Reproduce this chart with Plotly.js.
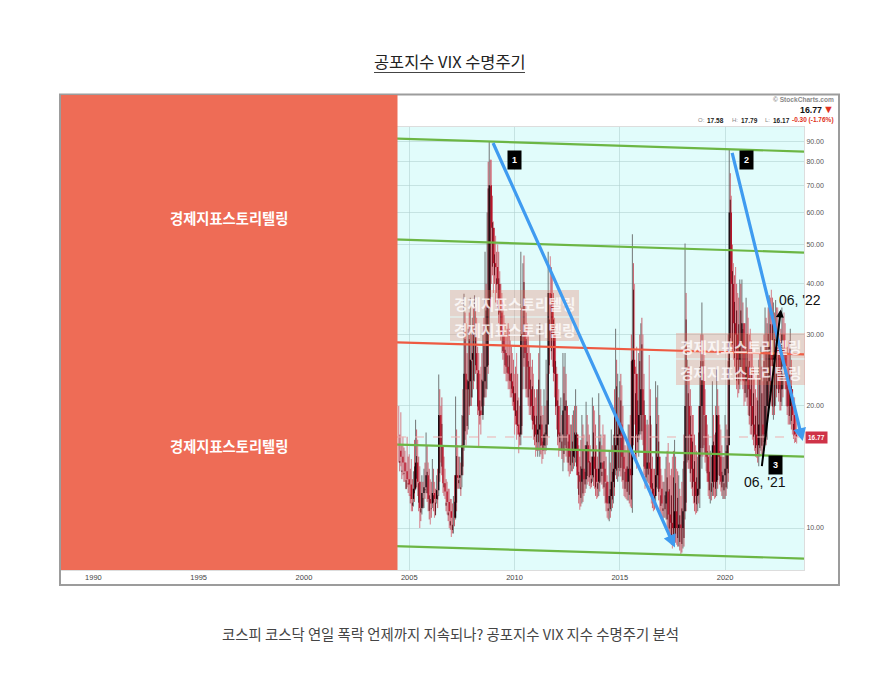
<!DOCTYPE html>
<html><head><meta charset="utf-8">
<script src="https://cdn.plot.ly/plotly-3.0.1.min.js"></script>
<style>html,body{margin:0;padding:0;background:#fff}#c{width:896px;height:692px}</style>
</head><body><div id="c"></div>
<script>
const dates=[2004.5,2004.6,2004.7,2004.8,2004.9,2005.0,2005.1,2005.2,2005.3,2005.4,2005.5,2005.6,2005.7,2005.8,2005.9,2006.0,2006.1,2006.2,2006.3,2006.4,2006.5,2006.6,2006.7,2006.8,2006.9,2007.0,2007.1,2007.2,2007.3,2007.4,2007.5,2007.6,2007.7,2007.8,2007.9,2008.0,2008.1,2008.2,2008.3,2008.4,2008.5,2008.6,2008.7,2008.8,2008.9,2009.0,2009.1,2009.2,2009.3,2009.4,2009.5,2009.6,2009.7,2009.8,2009.9,2010.0,2010.1,2010.2,2010.3,2010.4,2010.5,2010.6,2010.7,2010.8,2010.9,2011.0,2011.1,2011.2,2011.3,2011.4,2011.5,2011.6,2011.7,2011.8,2011.9,2012.0,2012.1,2012.2,2012.3,2012.4,2012.5,2012.6,2012.7,2012.8,2012.9,2013.0,2013.1,2013.2,2013.3,2013.4,2013.5,2013.6,2013.7,2013.8,2013.9,2014.0,2014.1,2014.2,2014.3,2014.4,2014.5,2014.6,2014.7,2014.8,2014.9,2015.0,2015.1,2015.2,2015.3,2015.4,2015.5,2015.6,2015.7,2015.8,2015.9,2016.0,2016.1,2016.2,2016.3,2016.4,2016.5,2016.6,2016.7,2016.8,2016.9,2017.0,2017.1,2017.2,2017.3,2017.4,2017.5,2017.6,2017.7,2017.8,2017.9,2018.0,2018.1,2018.2,2018.3,2018.4,2018.5,2018.6,2018.7,2018.8,2018.9,2019.0,2019.1,2019.2,2019.3,2019.4,2019.5,2019.6,2019.7,2019.8,2019.9,2020.0,2020.1,2020.2,2020.3,2020.4,2020.5,2020.6,2020.7,2020.8,2020.9,2021.0,2021.1,2021.2,2021.3,2021.4,2021.5,2021.6,2021.7,2021.8,2021.9,2022.0,2022.1,2022.2,2022.3,2022.4,2022.5,2022.6,2022.7,2022.8,2022.9,2023.0,2023.1,2023.2,2023.3,2023.4];
const highs=[20,19.3,16.8,15.5,16.8,15.2,14.8,13.8,18.5,16.5,14.2,13.5,14,17.2,14.5,13.2,14.8,13,13.5,23.9,20,16,14,13,12.5,11.8,12,21.1,16,15,19,37.8,32,31,37,33,37.5,33,27,25,30,48,60,89.5,81,57,52.6,50,43,38,33.5,30,32,29,27,24,27,21,48,45,37,32,28,25,24,21,22,32,20,22,26,48,46.8,42,33,25,22,21,27,27,20,19,18,19.5,22,17,15,19,17,20.5,18,16,21,19.5,16,21.5,17,18,17,13.5,15.5,17.5,17,31,24,23,22.5,17,15.5,18,19,53,40,28,27,32,30,19,18.5,26.7,18,14,23,22.5,15,13.5,13,15,16.2,13.5,15,16.5,14,13.5,12,14,50.3,26,25,20,19,16,15,25,36,27,19,17,15.5,23,17,24.6,20,17.5,15,19,17.5,85.6,66,45,44,38,41,41,32,37,33,31,27,24,21,26,28,23,35,32,37.5,38.7,36,36.5,35,29,35,34,29,27,31,22,21,18.5];
const lows=[14.5,14.2,13.5,13,12.6,12,11,11.3,12.4,12,10,10.8,11.2,12.2,11,10.2,11.2,10.6,11.5,12,14.5,12.2,11.8,10.8,10,9.5,9.7,10.5,12.5,12.5,12.6,15.5,16,17.5,20,21,23,22,15.8,17,18.5,21,22,30,40,38,36,35,30,27,24,23,22,21,20,17,16.5,15.3,16,22,22,21,19,18.5,16.5,15,15,15,14.4,15.5,15.5,20,28,25,21,17.5,15,15.5,13.8,16,14.5,13.4,13.8,14,14.5,12.5,11.1,11.5,12,12.5,13,12.5,13,12.5,11.8,12,13,12.5,11.5,10.6,10.4,11,11.5,13.5,13,13.8,13,12,11.8,11.7,11.3,10.9,18,14,15,17,16,12.5,13,12.8,11.5,11,11.5,12.5,11,10.5,10.6,10.5,9.6,9.4,8.9,9.3,9.1,9,8.6,8.9,10.5,14.5,14,12.5,11.5,10.8,11,11.2,14,16,13.8,12,11.5,12,11.8,12,13.5,12.3,11.8,11.8,12.5,25,28,26,24,21,22,24,20,21,19,17,16.5,15.5,14.9,14.2,15.5,15,16,16.5,21,20,18.5,20,22,19.5,20,24,20,18,18,17,16.2,16.17];
const closes=[15.5,15,14.5,13.8,13.2,12.8,11.8,12.5,14.5,13,11.2,12.2,12.6,13.5,11.8,11.5,12.2,11.8,12.4,19,16,12.9,12.3,11.6,11,10.6,10.6,13.5,13.3,13.5,16,24,22,23,26,27,27,24.5,19.5,19,23,25,35,70,55,45,44,40,34,30,27,25,24,23,21.5,19.5,18,17,30,30,27,25,22,20,18,17,17.5,18,16,17,18,38,36,30,24,20,17,17,19.5,20,17,15,15,15.5,17,13.5,13,14,13.2,16,14.5,13.5,15,14,13,14,14.5,14,13,11.5,12,13,14,16,17,18,15,14,13,14,13.5,26,24,17,19,22,19,14,14.5,14,12.5,12,13.5,15,12.5,11.5,11.5,12.3,10.8,10.3,10,11,10,10.2,10,11,20,20,17,14,13,12,12.5,20,24,19,15,13,13,16,13,19,15,13,13.5,14,16,60,40,32,30,26,28,32,23,25,22,20,18,17,16,18,18,17,20,23,28,26,27,28,27,22,30,27,22,20,22,19,17,16.77];
const dates2=[2004.55,2004.65,2004.75,2004.85,2004.95,
2005.05,2005.15,2005.25,2005.35,2005.45,2005.55,2005.65,2005.75,2005.85,2005.95,
2006.05,2006.15,2006.25,2006.35,2006.45,2006.55,2006.65,2006.75,2006.85,2006.95,
2007.05,2007.15,2007.25,2007.35,2007.45,2007.55,2007.65,2007.75,2007.85,2007.95,
2008.05,2008.15,2008.25,2008.35,2008.45,2008.55,2008.65,2008.75,2008.85,2008.95,
2009.05,2009.15,2009.25,2009.35,2009.45,2009.55,2009.65,2009.75,2009.85,2009.95,
2010.05,2010.15,2010.25,2010.35,2010.45,2010.55,2010.65,2010.75,2010.85,2010.95,
2011.05,2011.15,2011.25,2011.35,2011.45,2011.55,2011.65,2011.75,2011.85,2011.95,
2012.05,2012.15,2012.25,2012.35,2012.45,2012.55,2012.65,2012.75,2012.85,2012.95,
2013.05,2013.15,2013.25,2013.35,2013.45,2013.55,2013.65,2013.75,2013.85,2013.95,
2014.05,2014.15,2014.25,2014.35,2014.45,2014.55,2014.65,2014.75,2014.85,2014.95,
2015.05,2015.15,2015.25,2015.35,2015.45,2015.55,2015.65,2015.75,2015.85,2015.95,
2016.05,2016.15,2016.25,2016.35,2016.45,2016.55,2016.65,2016.75,2016.85,2016.95,
2017.05,2017.15,2017.25,2017.35,2017.45,2017.55,2017.65,2017.75,2017.85,2017.95,
2018.05,2018.15,2018.25,2018.35,2018.45,2018.55,2018.65,2018.75,2018.85,2018.95,
2019.05,2019.15,2019.25,2019.35,2019.45,2019.55,2019.65,2019.75,2019.85,2019.95,
2020.05,2020.15,2020.25,2020.35,2020.45,2020.55,2020.65,2020.75,2020.85,2020.95,
2021.05,2021.15,2021.25,2021.35,2021.45,2021.55,2021.65,2021.75,2021.85,2021.95,
2022.05,2022.15,2022.25,2022.35,2022.45,2022.55,2022.65,2022.75,2022.85,2022.95,
2023.05,2023.15,2023.25,2023.35];
const highs2=[17,16,15.8,14.5,15,
14,13.2,16.5,17.5,15,13,13,14.5,16,14,
13,14,12.5,14,22,21,15,13.2,12.5,11.8,
11.5,13.5,17.5,15,14.5,22,34,27,34,30,
35,35,28,24,27,33,40,80,81,66,
55,48,48,40,36,32,31,31,28,26,
25,24,20,35,47,34,30,27,26,22,
22,27,22,19,20,24,38,44,38,30,
24,20,19,25,24,19,18,19,20,20,
16,16.5,18,16,19,17,15,20,18,15,
19,16,17,15,13,14.5,16,22,26,21,
24,20,16,16.5,18,30,45,25,24,30,
33,24,18,18,22,15,14,21,19,14,
13,14,15.5,14.5,14,15.5,15,13.8,12.5,13,
17,38,25,22,19,17,15.5,20,30,30,
22,18,16,15,19,20,22,18,16,15,
18,30,75,50,42,40,37,40,36,32,
35,30,29,25,22,24,27,25,30,33,
35,37,37,34,35,32,31,33,32,28,
29,26,21,20];
const lows2=[13.8,13.2,13,12.5,12.2,
11.5,11,11.6,12.6,11,10.4,11.3,11.8,11.6,10.5,
10.6,11,11,11.2,13,13.5,12,11,10.4,9.9,
9.7,10.1,11,12.5,12,13.5,16.5,17,19,20,
22,24,19,18,19,20,21,24,35,42,
40,38,32,29,26,24,23,22,21,19.5,
18,17,16,17,25,21,20,19,17.5,16,
15.5,15.5,15.2,14.8,15.2,16,24,26,23,19,
16,15.5,14.8,14.5,15,13.8,13.6,13.8,14.2,13.5,
11.5,11.3,11.6,12.2,12.8,12.7,12.6,12.7,12,11.9,
12.3,12.8,12,11,10.5,10.6,11.2,12,13.2,13.4,
13.4,12.5,11.9,11.7,11.5,11.2,16,14.5,15.5,16.5,
16.5,13.5,12.7,12.9,12,11.2,11.1,12,11.7,10.8,
10.5,10.6,10,9.5,9.1,9.1,9.2,9,8.8,8.7,
9,11,14,13,12,11,10.9,11.5,15,15,
14.5,13,11.8,11.7,12,11.9,12.5,12.8,12,11.8,
12,13,28,27,25,22,21.5,23,22,20.5,
20,18,17,16,15,14.5,15,15.2,15.5,16,
19,20.5,19,19,21,20.5,19.5,21,22,19,
18,17.5,16.6,16.3];
const xTickVals=[1990,1995,2000,2005,2010,2015,2020];
const yTickVals=[10,20,30,40,50,60,70,80,90];
const channelX=[1988.46,2023.75];
const channelA=[97,84.8], channelB=[54.7,47.8], channelC=[17,15], channelD=[9.55,8.41];
const midlineX=[2004.42,2023.75], midlineY=[28.7,26.8];
const lastPrice=16.77;
const arrow1=[2008.95,89.8,2017.62,8.95], arrow2=[2020.32,84.9,2023.69,16.4], arrow3=[2021.74,14.1,2022.65,34.6];

function seg(ds,cond,a,b){const xs=[],ys=[];ds.forEach((d,i)=>{if(cond(i)){xs.push(d,d,null);ys.push(a(i),b(i),null);}});return {x:xs,y:ys};}
const up=i=>i>0&&closes[i]>=closes[i-1], down=i=>!up(i), all=i=>true;
const prev=i=>i>0?closes[i-1]:closes[i];
const line=(s,c,w,extra)=>Object.assign({type:'scatter',mode:'lines',x:s.x,y:s.y,line:{color:c,width:w},hoverinfo:'skip',showlegend:false,connectgaps:false},extra||{});
const traces=[
 line(seg(dates,up,i=>highs[i],i=>lows[i]),'rgba(90,90,90,0.75)',1.1),
 line(seg(dates,down,i=>highs[i],i=>lows[i]),'rgba(214,110,122,0.8)',1.1),
 line(seg(dates2,all,i=>highs2[i],i=>lows2[i]),'rgba(190,50,66,0.85)',0.9),
 line(seg(dates2,all,i=>highs2[i]*0.86,i=>lows2[i]*1.05),'#5a0a14',0.9),
 line(seg(dates,up,prev,i=>closes[i]),'#14040a',1.3),
 line(seg(dates,down,prev,i=>closes[i]),'#b8142a',1.3),
 line({x:channelX,y:channelA},'#6cb644',2.2),
 line({x:channelX,y:channelB},'#6cb644',2.2),
 line({x:channelX,y:channelC},'#6cb644',2.2),
 line({x:channelX,y:channelD},'#6cb644',2.2),
 line({x:midlineX,y:midlineY},'#ee5a42',2.2),
 line({x:midlineX,y:[lastPrice,lastPrice]},'#eeb0b0',1,{line:{color:'#eeb0b0',width:1,dash:'dash'}})
];
const L=61,R=804,T=127,B=570;
const px=x=>(x-L)/(R-L), py=y=>(B-y)/(B-T);
const rect=(x0,y0,x1,y1,fill,ln)=>({type:'rect',xref:'paper',yref:'paper',x0:px(x0),x1:px(x1),y0:py(y0),y1:py(y1),fillcolor:fill,line:ln||{width:0}});
const KR='"Noto Sans CJK KR","Noto Sans",sans-serif', LS='"Liberation Sans",Arial,sans-serif';
const note=(text,x,y,size,color,o)=>Object.assign({xref:'paper',yref:'paper',x:px(x),y:py(y),text,showarrow:false,xanchor:'center',yanchor:'middle',font:{family:LS,size,color}},o||{});
const arrow=(a,color,w,size)=>({xref:'x',yref:'y',axref:'x',ayref:'y',x:a[2],y:Math.log10(a[3]),ax:a[0],ay:Math.log10(a[1]),text:'',showarrow:true,arrowhead:2,arrowsize:size,arrowwidth:w,arrowcolor:color});
const mark='경제지표스토리텔링';
const shapes=[
 rect(60,94.5,839,585,'rgba(0,0,0,0)',{color:'#9c9c9c',width:2}),
 rect(61,95,397.5,570,'#ee6c56'),
 rect(450,290,579,316.5,'rgba(238,108,86,0.28)'),
 rect(450,317.5,579,341,'rgba(238,108,86,0.28)'),
 rect(676,333,805,358.5,'rgba(238,108,86,0.28)'),
 rect(676,359.5,805,385,'rgba(238,108,86,0.28)'),
 {type:'line',xref:'paper',yref:'paper',x0:px(374),x1:px(525),y0:py(72.5),y1:py(72.5),line:{color:'#444',width:1}}
];
const wm={family:KR,size:14.7,color:'rgba(255,255,255,0.8)',weight:700};
const blk={family:KR,size:14.3,color:'#fff',weight:700};
const annotations=[
 note(mark,229,217,14,'#fff',{font:blk}),
 note(mark,229,445,14,'#fff',{font:blk}),
 note(mark,515,303,13,'#fff',{font:wm}),note(mark,515,329,13,'#fff',{font:wm}),
 note(mark,741,346,13,'#fff',{font:wm}),note(mark,741,372,13,'#fff',{font:wm}),
 note('공포지수 VIX 수명주기',449.5,61,16.4,'#222',{font:{family:KR,size:16.4,color:'#222'}}),
 note('코스피 코스닥 연일 폭락 언제까지 지속되나? 공포지수 VIX 지수 수명주기 분석',450,633,14.4,'#444',{font:{family:KR,size:14.4,color:'#444'}}),
 note('© StockCharts.com',836,99,6.6,'#8a8a8a',{xanchor:'right',font:{family:LS,size:6.6,color:'#8a8a8a',weight:700}}),
 note('<b>16.77</b>',824,109.5,8.8,'#111',{xanchor:'right'}),
 note('▼',836,109,11,'#e03020',{xanchor:'right'}),
 note('O:',696,120,6,'#888',{xanchor:'left'}),note('<b>17.58</b>',705,120,6.5,'#222',{xanchor:'left'}),
 note('H:',730,120,6,'#888',{xanchor:'left'}),note('<b>17.79</b>',739,120,6.5,'#222',{xanchor:'left'}),
 note('L:',763,120,6,'#888',{xanchor:'left'}),note('<b>16.17</b>',771,120,6.5,'#222',{xanchor:'left'}),
 note('-0.30 (-1.76%)',836,120,6.5,'#e03020',{xanchor:'right',font:{family:LS,size:6.5,color:'#e03020',weight:700}}),
 arrow(arrow1,'#3f9bf0',3.2,0.8),arrow(arrow2,'#3f9bf0',3.2,0.8),arrow(arrow3,'#000',2,0.8),
 note('<b>1</b>',514,160,9,'#fff',{bgcolor:'#000',borderpad:4}),
 note('<b>2</b>',746,160,9,'#fff',{bgcolor:'#000',borderpad:4}),
 note('<b>3</b>',775,465,9,'#fff',{bgcolor:'#000',borderpad:4}),
 note("06, '22",800,300,14,'#111'),
 note("06, '21",765,482,14,'#111'),
 note('<b>16.77</b>',816,437,6.5,'#fff',{bgcolor:'#cf3348',borderpad:2})
];
const layout={
 width:896,height:692,margin:{l:L,r:896-R,t:T,b:692-B,pad:0},
 paper_bgcolor:'#fff',plot_bgcolor:'#e1fcfb',showlegend:false,
 font:{family:LS,color:'#444'},
 xaxis:{type:'linear',range:[1988.46,2023.75],tickvals:xTickVals,ticktext:xTickVals.map(String),tickfont:{size:7.5,color:'#444'},
   showgrid:true,gridcolor:'rgba(175,205,205,0.55)',gridwidth:1,zeroline:false,showline:true,linecolor:'#ddd',mirror:true,ticks:''},
 yaxis:{type:'log',side:'right',range:[Math.log10(7.88),Math.log10(97.5)],tickvals:yTickVals,ticktext:yTickVals.map(v=>v.toFixed(2)),tickfont:{size:7,color:'#555'},
   showgrid:true,gridcolor:'rgba(175,205,205,0.55)',gridwidth:1,zeroline:false,showline:true,linecolor:'#ddd',mirror:true,ticks:''},
 shapes,annotations
};
Plotly.newPlot('c',traces,layout,{displayModeBar:false,staticPlot:true});
</script></body></html>
